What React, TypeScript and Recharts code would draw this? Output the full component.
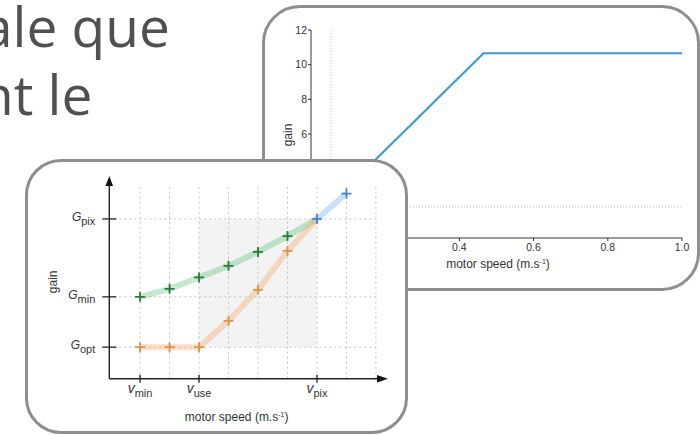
import React from 'react';
import { LineChart, Line, XAxis, YAxis, ReferenceLine, ReferenceArea, ReferenceDot, Label } from 'recharts';

const FONT = '"Liberation Sans", Arial, Helvetica, sans-serif';

// ---- background slide text
const slideLines = ['ale que', 'nt le'];

// ---- card 1: gain vs motor speed
const profileSpeed = [0.045, 0.465, 1.0];
const profileGain = [1.8, 10.66, 10.66];
const profileSpeedTicks = [0, 0.2, 0.4, 0.6, 0.8, 1.0];
const profileGainTicks = [0, 2, 4, 6, 8, 10, 12];
const profileGuideSpeed = [0.054];
const profileGuideGain = [1.8];

// ---- card 2: schematic gain curves
const steps = [0, 1, 2, 3, 4, 5, 6, 7];
const minGainCurve = [4.1, 4.5, 5.07, 5.65, 6.35, 7.14, 8.0, null];
const optGainCurve = [1.58, 1.58, 1.58, 2.9, 4.45, 6.4, 8.0, null];
const pixGainCurve = [null, null, null, null, null, null, 8.0, 9.27];
const gainTickValues = [1.58, 4.1, 8.0];
const gainTickNames = ['opt', 'min', 'pix'];
const speedTickValues = [0, 2, 6];
const speedTickNames = ['min', 'use', 'pix'];
const gridSteps = [0, 1, 2, 3, 4, 5, 6, 7, 8];
const usableSpeed = [2, 6];
const usableGain = [1.58, 8.0];

const SCHEMA_X: [number, number] = [-1.044, 8.07];
const SCHEMA_Y: [number, number] = [0, 9.7];

const plus = (color: string, skipIndex: number) => (p: any) => {
  const { cx, cy, index, value } = p;
  if (cx == null || cy == null || value == null || index === skipIndex) return <g key={`d-${color}-${index}`} />;
  return (
    <g key={`d-${color}-${index}`}>
      <line x1={cx - 5} x2={cx + 5} y1={cy} y2={cy} stroke={color} strokeWidth={1.8} />
      <line x1={cx} x2={cx} y1={cy - 5} y2={cy + 5} stroke={color} strokeWidth={1.8} />
    </g>
  );
};

const GainTick = (p: any) => {
  const { x, y, payload } = p;
  const i = gainTickValues.indexOf(payload.value);
  return (
    <g>
      <line x1={x - 7} x2={x + 7} y1={y} y2={y} stroke="#222" strokeWidth={1.3} />
      <text x={x - 14} y={y + 2} textAnchor="end" fill="#333" fontFamily={FONT} fontSize={12}>
        <tspan fontStyle="italic">G</tspan>
        <tspan dy={4} fontSize={11}>{gainTickNames[i]}</tspan>
      </text>
    </g>
  );
};

const SpeedTick = (p: any) => {
  const { x, y, payload } = p;
  const i = speedTickValues.indexOf(payload.value);
  return (
    <g>
      <line x1={x} x2={x} y1={y - 4} y2={y + 4} stroke="#222" strokeWidth={1.3} />
      <text x={x} y={y + 14} textAnchor="middle" fill="#333" fontFamily={FONT} fontSize={14}>
        <tspan fontStyle="italic">v</tspan>
        <tspan dy={4} fontSize={11}>{speedTickNames[i]}</tspan>
      </text>
    </g>
  );
};

const speedTitle = (cx: number, y: number) => (
  <text x={cx} y={y} textAnchor="middle" fill="#333" fontFamily={FONT} fontSize={12}>
    motor speed (m.s<tspan dy={-4} fontSize={7}>-1</tspan>
    <tspan dy={4}>)</tspan>
  </text>
);

const gainTitle = (x: number, cy: number) => (
  <text x={x} y={cy} textAnchor="middle" fill="#333" fontFamily={FONT} fontSize={12} transform={`rotate(-90 ${x} ${cy})`} dy={4}>
    gain
  </text>
);

export default function App() {
  const profileRows = profileSpeed.map((v, i) => ({ speed: v, gain: profileGain[i] }));
  const schemaRows = steps.map((k, i) => ({ k, gmin: minGainCurve[i], gopt: optGainCurve[i], gpix: pixGainCurve[i] }));

  return (
    <div style={{ position: 'absolute', left: 0, top: 0, width: 700, height: 435, overflow: 'hidden', background: '#fff' }}>
      <svg width={700} height={435} style={{ position: 'absolute', left: 0, top: 0 }}>
        <text x={-18} y={47} fontFamily='"Open Sans", "Noto Sans", sans-serif' fontSize={55} fill="#505050">
          {slideLines[0]}
        </text>
        <text x={-20} y={115} fontFamily='"Open Sans", "Noto Sans", sans-serif' fontSize={55} fill="#505050">
          {slideLines[1]}
        </text>
      </svg>

      {/* card 1 */}
      <div
        style={{
          position: 'absolute', left: 262, top: 5, width: 438, height: 286, boxSizing: 'border-box',
          border: '3px solid #8e8e8e', borderRadius: 38, background: '#fff',
        }}
      />
      <div style={{ position: 'absolute', left: 262, top: 5 }}>
        <LineChart width={438} height={286} data={profileRows} margin={{ top: 25, right: 18, left: 9, bottom: 23 }}>
          <XAxis
            dataKey="speed" type="number" domain={[0, 1]} ticks={profileSpeedTicks} allowDataOverflow
            height={30} tickSize={3} tickMargin={3} stroke="#333"
            tick={{ fontSize: 10.5, fill: '#333', fontFamily: FONT }}
            tickFormatter={(v: number) => (v === 0 ? '0' : v.toFixed(1))}
          >
            <Label content={(p: any) => speedTitle(p.viewBox.x + p.viewBox.width / 2 + 1.5, p.viewBox.y + 30)} />
          </XAxis>
          <YAxis
            type="number" domain={[0, 12]} ticks={profileGainTicks} allowDataOverflow width={40}
            tickSize={3} tickMargin={1} stroke="#333"
            tick={{ fontSize: 10.5, fill: '#333', fontFamily: FONT }}
          >
            <Label content={(p: any) => gainTitle(p.viewBox.x + p.viewBox.width - 23, p.viewBox.y + p.viewBox.height / 2 + 1)} />
          </YAxis>
          {profileGuideSpeed.map((v) => (
            <ReferenceLine key={`gx${v}`} x={v} stroke="#bdbdbd" strokeDasharray="1 2" />
          ))}
          {profileGuideGain.map((v) => (
            <ReferenceLine key={`gy${v}`} y={v} stroke="#bdbdbd" strokeDasharray="1 2" />
          ))}
          <Line dataKey="gain" type="linear" stroke="#3f97d6" strokeWidth={2.2} dot={false} isAnimationActive={false} />
        </LineChart>
      </div>

      {/* card 2 */}
      <div
        style={{
          position: 'absolute', left: 25, top: 159, width: 383, height: 275, boxSizing: 'border-box',
          border: '3px solid #8e8e8e', borderRadius: 36, background: '#fff',
        }}
      />
      <div style={{ position: 'absolute', left: 25, top: 159 }}>
        <LineChart width={383} height={276} data={schemaRows} margin={{ top: 26, right: 30, left: 24.3, bottom: 16.3 }}>
          <ReferenceArea
            x1={usableSpeed[0]} x2={usableSpeed[1]} y1={usableGain[0]} y2={usableGain[1]}
            fill="#f3f3f3" fillOpacity={1} stroke="none" ifOverflow="visible"
          />
          {gridSteps.map((k) => (
            <ReferenceLine key={`vx${k}`} x={k} stroke="#c4c4c4" strokeDasharray="2 3" ifOverflow="visible" />
          ))}
          {gainTickValues.map((g) => (
            <ReferenceLine
              key={`hy${g}`}
              segment={[{ x: SCHEMA_X[0], y: g }, { x: gridSteps[gridSteps.length - 1], y: g }]}
              stroke="#c4c4c4" strokeDasharray="2 3" ifOverflow="visible"
            />
          ))}
          <XAxis
            dataKey="k" type="number" domain={SCHEMA_X} ticks={speedTickValues} allowDataOverflow interval={0}
            height={40} tickSize={0} tickMargin={0} tickLine={false} stroke="#222" strokeWidth={1.4}
            tick={(p: any) => <SpeedTick x={p.x} y={p.y} payload={p.payload} />}
          >
            <Label content={(p: any) => speedTitle(p.viewBox.x + p.viewBox.width / 2 - 7, p.viewBox.y + 42)} />
          </XAxis>
          <YAxis
            type="number" domain={SCHEMA_Y} ticks={gainTickValues} allowDataOverflow interval={0} width={60}
            tickSize={0} tickMargin={0} tickLine={false} stroke="#222" strokeWidth={1.4}
            tick={(p: any) => <GainTick x={p.x} y={p.y} payload={p.payload} />}
          >
            <Label content={(p: any) => gainTitle(p.viewBox.x + p.viewBox.width - 56, p.viewBox.y + p.viewBox.height / 2)} />
          </YAxis>
          <Line
            dataKey="gmin" type="linear" stroke="#3cb464" strokeOpacity={0.3} strokeWidth={6} strokeLinejoin="round"
            dot={plus('#2a7a3a', 6)} activeDot={false} isAnimationActive={false}
          />
          <Line
            dataKey="gopt" type="linear" stroke="#f0a060" strokeOpacity={0.35} strokeWidth={6} strokeLinejoin="round"
            dot={plus('#d8954f', 6)} activeDot={false} isAnimationActive={false}
          />
          <Line
            dataKey="gpix" type="linear" stroke="#4a9de0" strokeOpacity={0.3} strokeWidth={6} strokeLinejoin="round"
            dot={plus('#4f7fd6', -1)} activeDot={false} isAnimationActive={false}
          />
          <ReferenceDot
            x={SCHEMA_X[0]} y={SCHEMA_Y[1]} ifOverflow="visible"
            shape={(p: any) => (
              <path d={`M${p.cx},${p.cy - 9} L${p.cx - 3.8},${p.cy + 1} L${p.cx + 3.8},${p.cy + 1} Z`} fill="#111" />
            )}
          />
          <ReferenceDot
            x={SCHEMA_X[1]} y={SCHEMA_Y[0]} ifOverflow="visible"
            shape={(p: any) => (
              <path d={`M${p.cx + 10},${p.cy} L${p.cx - 1},${p.cy - 3.8} L${p.cx - 1},${p.cy + 3.8} Z`} fill="#111" />
            )}
          />
        </LineChart>
      </div>
    </div>
  );
}
